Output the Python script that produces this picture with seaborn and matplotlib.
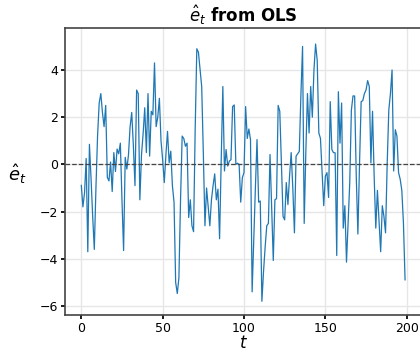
import numpy as np
import pandas as pd
import matplotlib
matplotlib.use("Agg")
import matplotlib.pyplot as plt
import seaborn as sns

resid = [
    -0.88, -1.8, -1.2, 0.25, -3.7, 0.85, -0.6, -2.2, -3.6, -1.0,
    1.2, 2.6, 3.0, 2.2, 1.6, 2.5, -0.55, -0.7, 0.1, -1.15,
    0.5, -0.3, 0.65, 0.45, 0.9, -1.5, -3.65, 0.3, -0.2, 0.4,
    1.6, 2.2, 0.8, -0.9, 3.15, 3.0, -1.5, 0.4, 1.3, 2.4,
    0.5, 3.0, 0.35, 2.25, 2.1, 4.3, 1.6, 2.0, 2.8, 1.0,
    0.2, -0.77, 0.4, 1.4, 0.07, 0.56, -0.9, -1.6, -5.0, -5.47,
    -4.8, -1.5, 1.2, 1.1, 0.77, 0.9, -2.25, -1.5, -2.6, -2.85,
    1.5, 4.9, 4.75, 4.0, 3.3, 0.5, -2.6, -1.0, -1.8, -2.6,
    -1.5, -0.9, -0.4, -1.5, -1.05, -3.15, 0.2, 3.3, -0.28, 0.63,
    -0.07, 0.14, 0.2, 2.45, 2.52, 0.0, 0.05, 0.0, -1.6, -0.56,
    -0.35, 2.45, 1.1, 1.5, 1.05, -5.4, -3.15, -1.0, 1.05, -1.6,
    -1.55, -5.8, -4.55, -3.5, -2.6, -2.5, 0.42, -1.8, -4.07, -1.5,
    -1.45, 2.5, 2.25, 0.0, -2.2, -2.35, -0.77, -1.7, -0.5, 0.5,
    -1.0, -2.9, 0.35, 0.45, 0.55, 3.0, 5.0, -2.5, 0.5, 3.0,
    1.33, 3.3, 2.0, 4.0, 5.1, 4.4, 1.33, 1.1, -0.3, -1.75,
    -0.5, -0.35, -1.4, 2.66, 0.63, 0.5, 0.49, -3.86, 3.08, 0.9,
    2.6, -2.7, -1.75, -4.14, -2.5, -0.77, 2.3, 2.9, 2.9, -0.5,
    -2.95, 0.0, 2.66, 2.7, 3.0, 3.15, 3.55, 3.3, 0.07, 2.25,
    -0.5, -2.7, -1.1, -2.4, -3.7, -1.75, -2.2, -2.9, 0.0, 2.3,
    3.0, 4.0, -0.28, 1.47, 1.2, -0.35, -0.63, -1.1, -2.5, -4.9,
]
t = list(range(len(resid)))

df = pd.DataFrame({"t": t, "resid": resid})

sns.set_theme(style="whitegrid")
plt.rcParams.update({
    "xtick.bottom": True, "ytick.left": True,
    "xtick.major.size": 3, "ytick.major.size": 3,
    "xtick.color": "black", "ytick.color": "black",
    "xtick.labelcolor": "black", "ytick.labelcolor": "black",
    "text.color": "black", "axes.labelcolor": "black",
    "grid.color": "#e6e6e6",
})
plt.rcParams["font.family"] = ["DejaVu Sans"]

fig = plt.figure(figsize=(4.2, 3.51), dpi=100)
ax = fig.add_axes([0.155, 0.1026, 0.848, 0.8177])
sns.lineplot(data=df, x="t", y="resid", ax=ax, color="#1f77b4", linewidth=0.9)
ax.axhline(0, color="#444444", linestyle="--", linewidth=0.9)

ax.set_xlim(-9.95, 208.95)
ax.set_ylim(-6.38, 5.78)
ax.set_xticks([0, 50, 100, 150, 200])
ax.set_yticks([-6, -4, -2, 0, 2, 4])
ax.tick_params(labelsize=9, pad=2)
for s in ax.spines.values():
    s.set_color("#444444")
    s.set_linewidth(1.2)

ax.set_title(r"$\hat{e}_t$ from OLS", fontsize=12, fontweight="bold", pad=4, color="black")
ax.set_xlabel(r"$t$", fontsize=12, labelpad=-1, color="black")
ax.set_ylabel(r"$\hat{e}_t$", fontsize=13, rotation=0, va="center", ha="center", color="black")
ax.yaxis.set_label_coords(-0.135, 0.49)

fig.savefig("out.png", dpi=100)
